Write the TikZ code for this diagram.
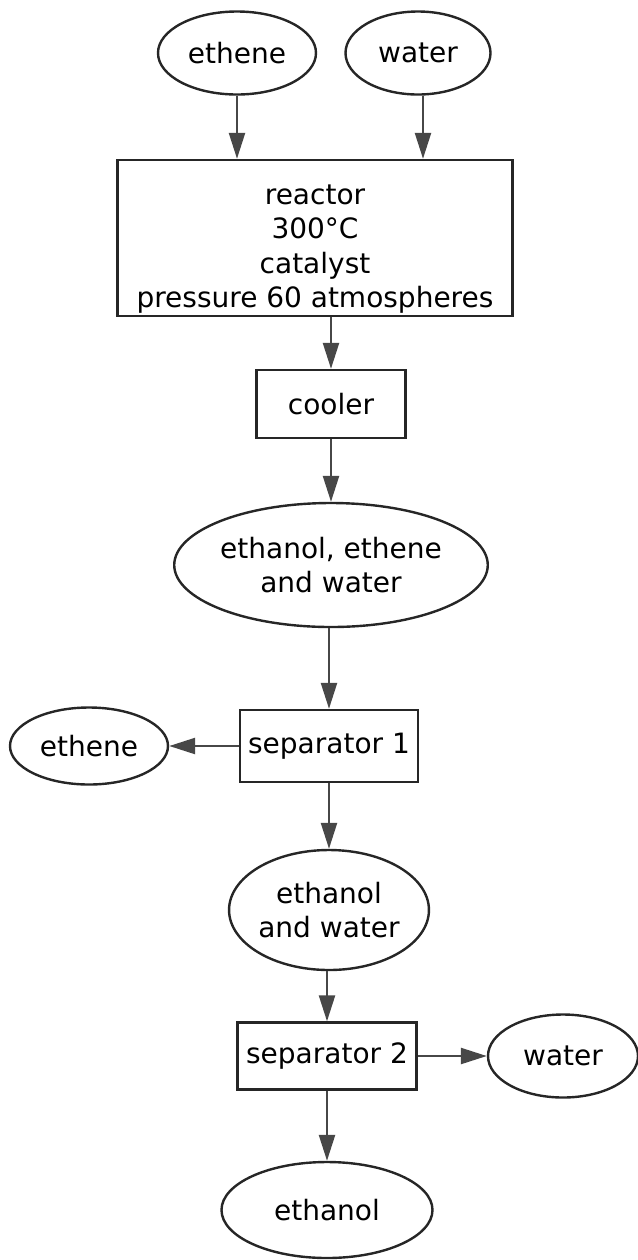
\documentclass[tikz,border=0pt]{standalone}
\usepackage{fontspec}
\setmainfont{DejaVu Sans}
\usetikzlibrary{arrows.meta,shapes.geometric,positioning}

\begin{document}
\begin{tikzpicture}[
    x=0.5pt, y=-0.5pt,
    font=\fontsize{14pt}{17.25pt}\selectfont,
    unit/.style={draw=black!85, line width=1.2pt, align=center, inner sep=0pt},
    stream/.style={ellipse, draw=black!85, line width=1.2pt, align=center, inner sep=0pt},
    arr/.style={-{Triangle[length=13pt, width=8pt]}, line width=1.2pt, draw=black!72, fill=black!72}
]
\useasboundingbox (0,0) rectangle (638,1260);

% feeds
\node[stream, minimum width=79pt, minimum height=41.5pt] (ethenein) at (237,53) {ethene};
\node[stream, minimum width=72.5pt, minimum height=41.5pt] (waterin) at (418,53) {water};

% process units and streams
\node[unit, minimum width=197.5pt, minimum height=78pt] (reactor) at (315,238) {\rule{0pt}{21pt}reactor\\300°C\\catalyst\\pressure 60 atmospheres};
\node[unit, minimum width=74.5pt, minimum height=34pt] (cooler) at (331,404) {cooler};
\node[stream, minimum width=131pt, minimum height=62pt] (mix) at (331,565) {ethanol, ethene\\and water};
\node[unit, minimum width=89pt, minimum height=36pt] (sepone) at (329,746) {separator 1};
\node[stream, minimum width=79pt, minimum height=38.5pt] (etheneout) at (89,746) {ethene};
\node[stream, minimum width=95pt, minimum height=60pt] (ethwat) at (329,910) {ethanol\\and water};
\node[unit, minimum width=89.5pt, minimum height=33.5pt] (septwo) at (327,1056) {separator 2};
\node[stream, minimum width=75pt, minimum height=41.5pt] (waterout) at (563,1056) {water};
\node[stream, minimum width=105.5pt, minimum height=48pt] (ethanol) at (327,1210) {ethanol};

\draw[arr] (ethenein.south) -- (ethenein.south |- reactor.north);
\draw[arr] (waterin.south -| 423,0) -- (reactor.north -| 423,0);
\draw[arr] (cooler.north |- reactor.south) -- (cooler.north);
\draw[arr] (cooler.south) -- (cooler.south |- mix.north);
\draw[arr] (sepone.north |- mix.south) -- (sepone.north);
\draw[arr] (sepone.west) -- (etheneout.east);
\draw[arr] (sepone.south) -- (ethwat.north);
\draw[arr] (septwo.north |- ethwat.south) -- (septwo.north);
\draw[arr] (septwo.east) -- (waterout.west);
\draw[arr] (septwo.south) -- (ethanol.north);
\end{tikzpicture}
\end{document}
